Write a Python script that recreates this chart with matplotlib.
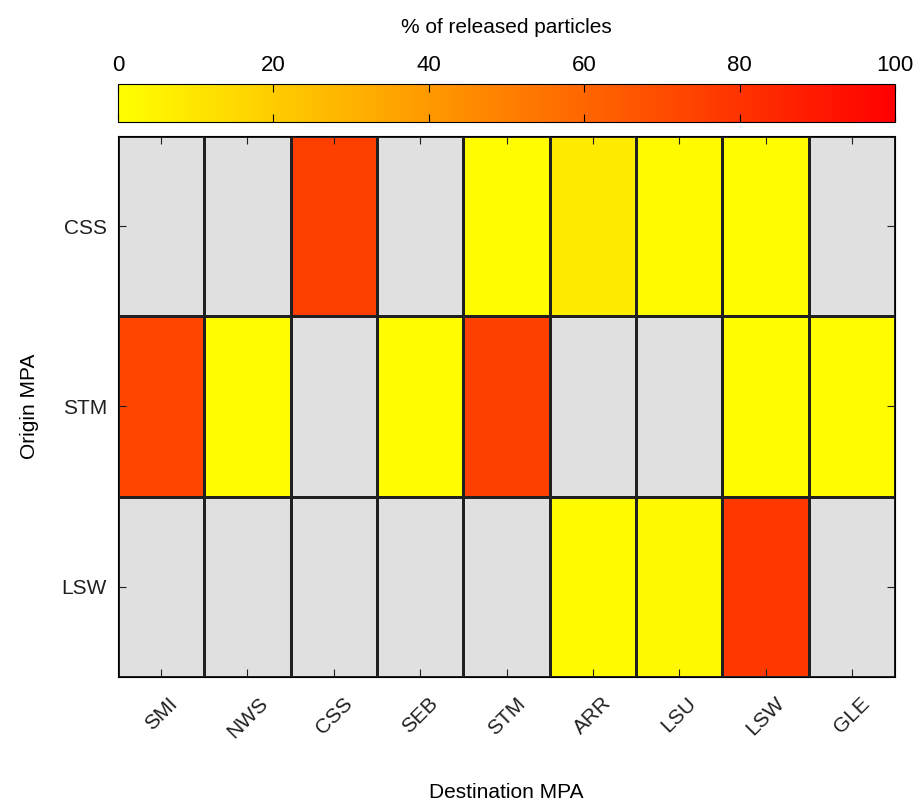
import numpy as np
import matplotlib.pyplot as plt
from matplotlib.colors import LinearSegmentedColormap

plt.rcParams['font.family'] = ['Liberation Sans', 'DejaVu Sans']

# Connectivity matrix (% of released particles), NaN = no connection
origin = ['CSS', 'STM', 'LSW']
destination = ['SMI', 'NWS', 'CSS', 'SEB', 'STM', 'ARR', 'LSU', 'LSW', 'GLE']
css_row = [np.nan, np.nan, 75, np.nan, 1, 8, 2, 1, np.nan]
stm_row = [73, 1, np.nan, 1, 75, np.nan, np.nan, 1, 1]
lsw_row = [np.nan, np.nan, np.nan, np.nan, np.nan, 2, 3, 78, np.nan]

data = np.array([css_row, stm_row, lsw_row], dtype=float)

# yellow -> red, grey for empty cells
cmap = LinearSegmentedColormap.from_list('yr', [(1, 1, 0), (1, 0, 0)])
cmap.set_bad((0.88, 0.88, 0.88))

fig = plt.figure(figsize=(9.16, 8.09), dpi=100)
ax = fig.add_axes([0.1288, 0.1632, 0.8483, 0.6687])
cax = fig.add_axes([0.1288, 0.849, 0.8483, 0.047])

mesh = ax.pcolormesh(np.ma.masked_invalid(data), cmap=cmap, vmin=0, vmax=100,
                     edgecolors='#202020', linewidth=0.8)
ax.set_xlim(0, len(destination))
ax.set_ylim(len(origin), 0)
ax.set_xticks(np.arange(len(destination)) + 0.5)
ax.set_xticklabels(destination, rotation=45, ha='center', va='top')
ax.set_yticks(np.arange(len(origin)) + 0.5)
ax.set_yticklabels(origin)
ax.tick_params(direction='in', length=6, width=0.8, top=True, right=True,
               labelsize=15, colors='#202020')
ax.tick_params(axis='x', pad=12)
ax.tick_params(axis='y', pad=8)
for s in ax.spines.values():
    s.set_linewidth(0.8)
ax.set_xlabel('Destination MPA', fontsize=15, labelpad=30)
ax.set_ylabel('Origin MPA', fontsize=15, labelpad=16)

cb = fig.colorbar(mesh, cax=cax, orientation='horizontal')
cb.set_ticks([0, 20, 40, 60, 80, 100])
cax.xaxis.set_ticks_position('both')
cax.xaxis.set_label_position('top')
cax.tick_params(direction='in', length=6, width=0.8, labeltop=True, labelbottom=False,
                labelsize=16, pad=6)
cb.set_label('% of released particles', fontsize=15, labelpad=16)
cb.outline.set_linewidth(0.8)

fig.savefig('out.png', dpi=100)
